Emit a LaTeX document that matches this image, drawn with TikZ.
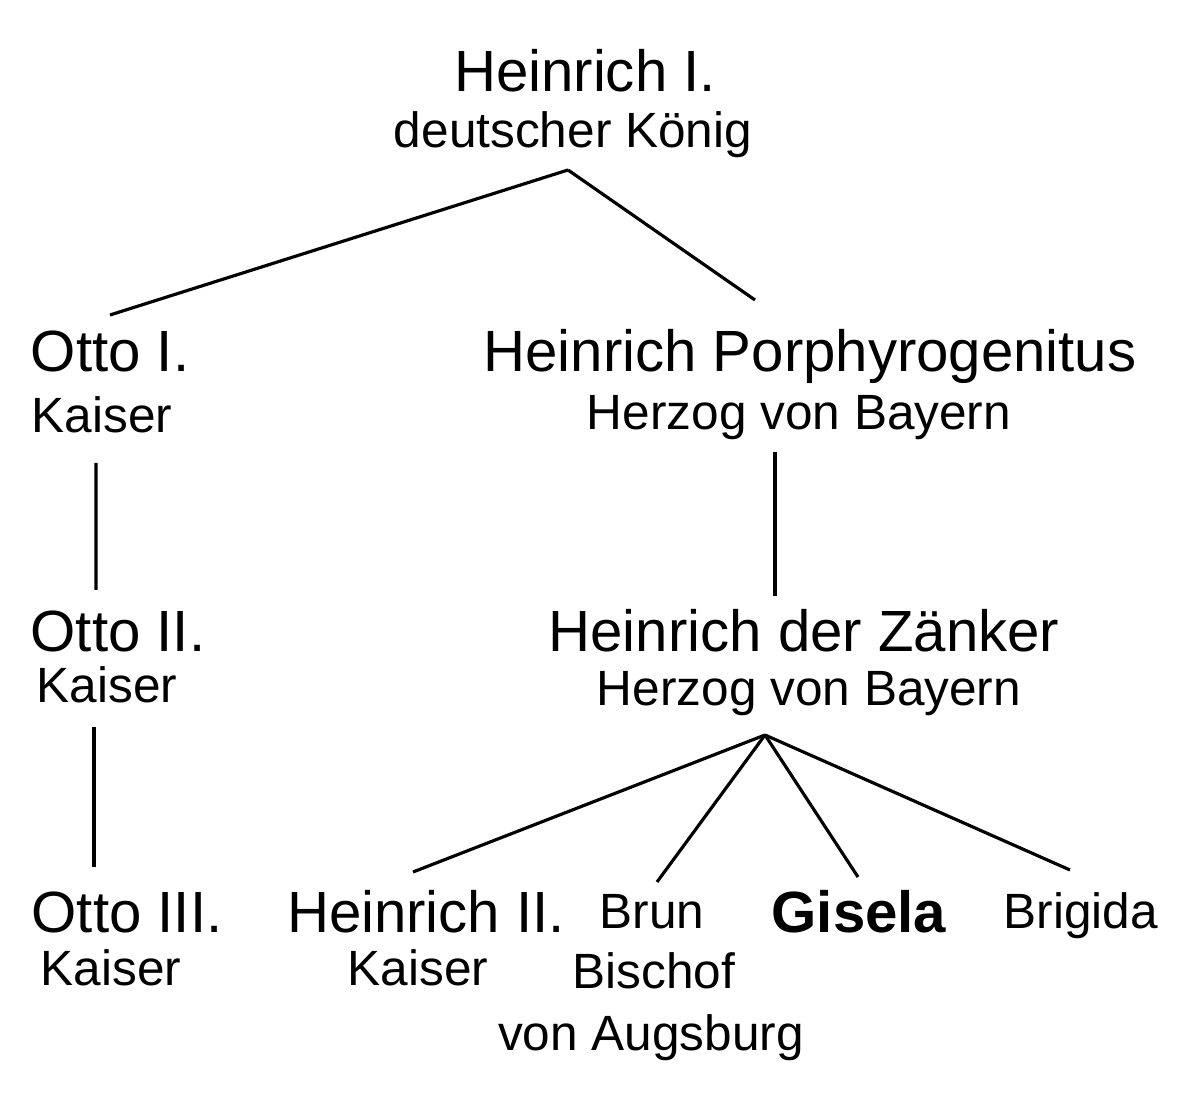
\documentclass[tikz,border=0pt]{standalone}
\usepackage{fontspec}
\setmainfont{Liberation Sans}
\usepackage{tikz}
\usetikzlibrary{positioning}
\tikzset{
	ruler/.style={inner sep=0pt,anchor=base,font=\fontsize{16.55}{20}\selectfont},
	rank/.style={inner sep=0pt,anchor=base,font=\fontsize{14.1}{17}\selectfont},
	line/.style={draw,line width=0.9pt}
}
\begin{document}
\begin{tikzpicture}
		\useasboundingbox (0,0) rectangle (11.81,-10.98);
		\node[ruler] (h1) at (5.85,-0.92) {Heinrich I.};
		\node[rank] (h1t) at (5.73,-1.48) {deutscher König};
		\node[ruler] (o1) at (1.10,-3.72) {Otto I.};
		\node[rank] (o1t) at (1.02,-4.33) {Kaiser};
		\node[ruler] (hp) at (8.10,-3.72) {Heinrich Porphyrogenitus};
		\node[rank] (hpt) at (7.99,-4.30) {Herzog von Bayern};
		\node[ruler] (o2) at (1.18,-6.52) {Otto II.};
		\node[rank] (o2t) at (1.07,-7.03) {Kaiser};
		\node[ruler] (hz) at (8.04,-6.52) {Heinrich der Zänker};
		\node[rank] (hzt) at (8.09,-7.06) {Herzog von Bayern};
		\node[ruler] (o3) at (1.27,-9.32) {Otto III.};
		\node[rank] (o3t) at (1.11,-9.85) {Kaiser};
		\node[ruler] (h2) at (4.26,-9.32) {Heinrich II.};
		\node[rank] (h2t) at (4.18,-9.85) {Kaiser};
		\node[rank] (brun) at (6.52,-9.28) {Brun};
		\node[rank] (bruna) at (6.54,-9.88) {Bischof};
		\node[rank] (brunb) at (6.51,-10.50) {von Augsburg};
		\node[ruler,font=\fontsize{16.55}{20}\selectfont\bfseries] (gis) at (8.59,-9.32) {Gisela};
		\node[rank] (brig) at (10.81,-9.28) {Brigida};
		%
		\path[line]
		([shift={(-0.05,-0.22)}]h1t.base) edge ([shift={(0,0.57)}]o1.base)
		([shift={(-0.05,-0.22)}]h1t.base) edge ([shift={(-0.55,0.72)}]hp.base)
		([shift={(-0.06,-0.30)}]o1t.base) edge ([shift={(-0.22,0.62)}]o2.base)
		([shift={(-0.13,-0.24)}]o2t.base) edge ([shift={(-0.33,0.65)}]o3.base)
		([shift={(-0.24,-0.22)}]hpt.base) edge ([shift={(-0.29,0.56)}]hz.base)
		([shift={(-0.44,-0.29)}]hzt.base) edge ([shift={(-0.13,0.60)}]h2.base)
		([shift={(-0.44,-0.29)}]hzt.base) edge ([shift={(0.05,0.46)}]brun.base)
		([shift={(-0.44,-0.29)}]hzt.base) edge ([shift={(-0.01,0.55)}]gis.base)
		([shift={(-0.44,-0.29)}]hzt.base) edge ([shift={(-0.11,0.58)}]brig.base);
\end{tikzpicture}
\end{document}
